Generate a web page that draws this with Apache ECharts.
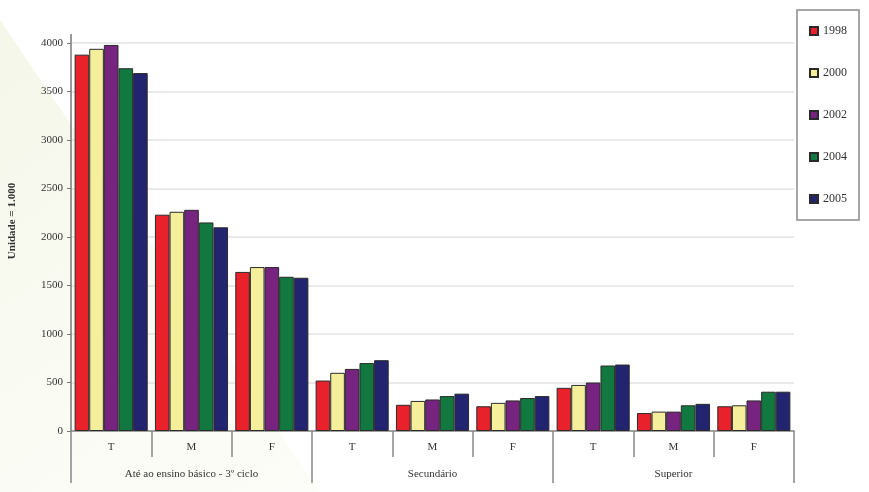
<!DOCTYPE html>
<html>
<head>
<meta charset="utf-8">
<script src="https://cdn.jsdelivr.net/npm/echarts@6/dist/echarts.min.js"></script>
<style>
  html, body { margin: 0; padding: 0; background: #fff; }
  #chart { width: 869px; height: 492px; }
</style>
</head>
<body>
<div id="chart"></div>
<script>
// categorias (nível 1 e nível 2)
const subCats = ['T', 'M', 'F', 'T', 'M', 'F', 'T', 'M', 'F']
const groups = ['Até ao ensino básico - 3º ciclo', 'Secundário', 'Superior']
const years = ['1998', '2000', '2002', '2004', '2005']
const colors = ['#e8212a', '#f5ef9c', '#76247f', '#11793f', '#222470']

// valores (unidade = 1.000)
const v1998 = [3880, 2230, 1640, 520, 270, 255, 445, 185, 255]
const v2000 = [3940, 2260, 1690, 600, 310, 290, 475, 200, 265]
const v2002 = [3980, 2280, 1690, 640, 325, 315, 500, 200, 315]
const v2004 = [3740, 2150, 1590, 700, 360, 340, 675, 265, 405]
const v2005 = [3690, 2100, 1580, 730, 385, 360, 685, 280, 405]
const values = [v1998, v2000, v2002, v2004, v2005]

const yTicks = [0, 500, 1000, 1500, 2000, 2500, 3000, 3500, 4000]

const font = '"Liberation Serif", "DejaVu Serif", serif'
const chart = echarts.init(document.getElementById('chart'))

const series = years.map(function (y, i) {
  return {
    name: y,
    type: 'bar',
    xAxisIndex: 0,
    animation: false,
    barGap: '0%',
    barCategoryGap: '9%',
    data: values[i],
    itemStyle: {
      color: colors[i],
      borderColor: '#2a2a2a',
      borderWidth: 1
    }
  }
})

chart.setOption({
  backgroundColor: '#fff',
  textStyle: { fontFamily: font },
  graphic: [
    {
      type: 'polygon',
      z: -10,
      silent: true,
      shape: { points: [[0, 20], [0, 492], [320, 492]] },
      style: {
        fill: new echarts.graphic.LinearGradient(0, 0, 1, 1, [
          { offset: 0, color: 'rgba(238,241,218,0.6)' },
          { offset: 1, color: 'rgba(246,248,232,0.3)' }
        ])
      }
    },
    {
      type: 'line',
      silent: true,
      shape: { x1: 71, y1: 34, x2: 71, y2: 43 },
      style: { stroke: '#777', lineWidth: 1.5 }
    }
  ],
  grid: { left: 71, right: 75, top: 43, bottom: 61, containLabel: false, outerBoundsMode: 'none' },
  legend: {
    orient: 'vertical',
    left: 797,
    top: 10,
    padding: [15, 12, 15, 12],
    itemWidth: 8,
    itemHeight: 8,
    itemGap: 30,
    itemTextGap: 4,
    icon: 'rect',
    borderColor: '#8a8a8a',
    borderWidth: 1.5,
    backgroundColor: '#fff',
    data: years,
    textStyle: { fontFamily: font, fontSize: 12, color: '#333' }
  },
  xAxis: [
    {
      type: 'category',
      data: subCats,
      position: 'bottom',
      boundaryGap: true,
      axisLine: { lineStyle: { color: '#888', width: 1.5 } },
      axisTick: { show: true, interval: 0, length: 26, lineStyle: { color: '#888', width: 1.5 } },
      axisLabel: { interval: 0, margin: 11, fontSize: 11, color: '#333', fontFamily: font }
    },
    {
      type: 'category',
      data: groups,
      position: 'bottom',
      offset: 26,
      boundaryGap: true,
      axisLine: { show: false },
      axisTick: { show: true, interval: 0, length: 26, lineStyle: { color: '#888', width: 1.5 } },
      axisLabel: { interval: 0, margin: 12, fontSize: 11, color: '#333', fontFamily: font }
    }
  ],
  yAxis: {
    type: 'value',
    min: yTicks[0],
    max: yTicks[yTicks.length - 1],
    interval: 500,
    name: 'Unidade = 1.000',
    nameLocation: 'middle',
    nameGap: 53,
    nameTextStyle: { fontFamily: font, fontSize: 11, fontWeight: 'bold', color: '#333', padding: [0, 0, 0, 32] },
    axisLine: { show: true, lineStyle: { color: '#777', width: 1.5 } },
    axisTick: { show: true, length: 4, lineStyle: { color: '#777' } },
    axisLabel: {
      margin: 8, fontSize: 11, color: '#333', fontFamily: font,
      formatter: function (v) { return String(v) }
    },
    splitLine: { lineStyle: { color: '#e2e2e2', width: 1.5 } }
  },
  series: series
})
</script>
</body>
</html>
